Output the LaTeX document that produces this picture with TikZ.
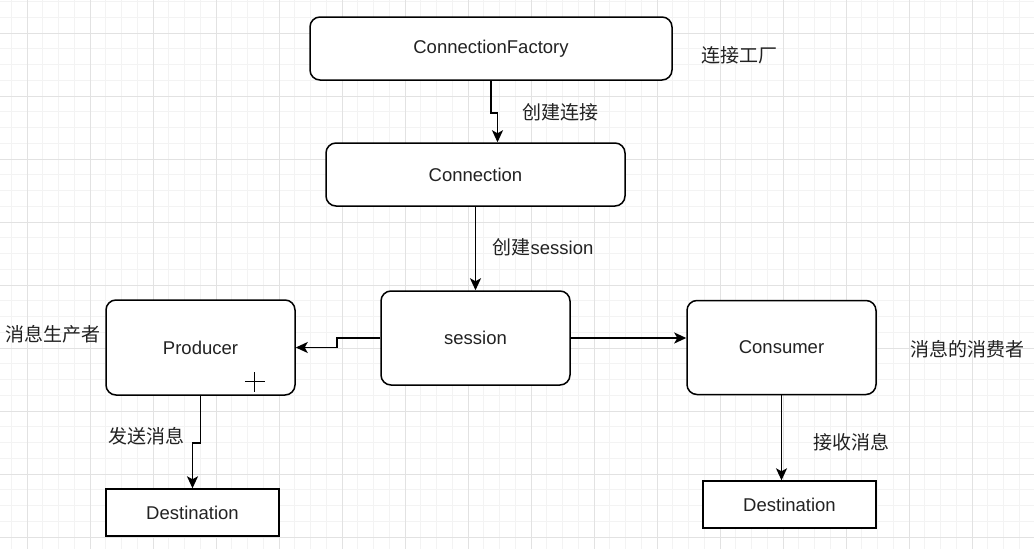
\documentclass[tikz,border=0pt]{standalone}
\usepackage{fontspec}
\setmainfont{Liberation Sans}
\newfontfamily\cjk{Noto Sans CJK SC}
\usetikzlibrary{arrows.meta}
\definecolor{txt}{HTML}{222222}
\definecolor{gminor}{HTML}{F3F3F3}
\definecolor{gmajor}{HTML}{E2E2E2}
\begin{document}
\begin{tikzpicture}[x=1pt,y=-1pt,
  rbox/.style={draw=black, rounded corners=10pt, line width=1.5pt, fill=white, inner sep=0pt, text=txt, font=\fontsize{18.5}{21}\selectfont},
  sbox/.style={draw=black, line width=1.4pt, fill=white, inner sep=0pt, text=txt, font=\fontsize{18.5}{21}\selectfont},
  lbl/.style={inner sep=0pt, text=txt, font=\fontsize{19}{22}\selectfont\cjk},
  arr/.style={draw=black, line width=1.6pt, -{Stealth[length=12pt,width=11pt,inset=3pt]}},
  gridminor/.style={draw=gminor, line width=0.8pt},
  gridmajor/.style={draw=gmajor, line width=1pt}]
\useasboundingbox (0,0) rectangle (1034,549);
\begin{scope}
\clip (0,0) rectangle (1034,549);
\fill[white] (0,0) rectangle (1034,549);
\foreach \i in {-2,...,65} \draw[gridminor] ({27+15.75*\i},0) -- ({27+15.75*\i},549);
\foreach \i in {-3,...,34} \draw[gridminor] (0,{33+15.75*\i}) -- (1034,{33+15.75*\i});
\foreach \i in {0,...,16} \draw[gridmajor] ({27+63*\i},0) -- ({27+63*\i},549);
\foreach \i in {0,...,8} \draw[gridmajor] (0,{33+63*\i}) -- (1034,{33+63*\i});
\end{scope}

\node[rbox, minimum width=362pt, minimum height=63pt] (cf) at (491,48.5) {ConnectionFactory};
\node[rbox, minimum width=299pt, minimum height=63pt] (conn) at (475.5,174.5) {Connection};
\node[rbox, minimum width=189pt, minimum height=94pt] (ses) at (475.5,338) {session};
\node[rbox, minimum width=189pt, minimum height=95pt] (prod) at (200.5,347.5) {Producer};
\node[rbox, minimum width=189pt, minimum height=94pt] (cons) at (781.5,347.5) {Consumer};
\node[sbox, minimum width=173pt, minimum height=47pt] (d1) at (192.5,512.5) {Destination};
\node[sbox, minimum width=173pt, minimum height=47pt] (d2) at (789.5,504.5) {Destination};

\node[lbl] (l1) at (739,55) {连接工厂};
\node[lbl] (l2) at (560,112) {创建连接};
\node[lbl, font=\fontsize{18.5}{21}\selectfont] (l3) at (543,247) {{\fontsize{19}{22}\selectfont\cjk 创建}session};
\node[lbl] (l4) at (53,334) {消息生产者};
\node[lbl] (l5) at (967,349) {消息的消费者};
\node[lbl] (l6) at (146,436) {发送消息};
\node[lbl] (l7) at (851,442) {接收消息};

\draw[arr] (cf.south) -- ++(0,32) -| ([xshift=22pt]conn.north);
\draw[arr] (conn.south) -- (ses.north);
\draw[arr] (ses.west) -- ++(-43,0) |- (prod.east);
\draw[arr] (ses.east) -- (ses.east -| cons.west);
\draw[arr] (prod.south) -- ++(0,47) -| (d1.north);
\draw[arr] (cons.south) -- (cons.south |- d2.north);

\coordinate (pc) at ([xshift=-41pt,yshift=14pt]prod.south east);
\draw[line width=1.3pt] ([xshift=-10pt]pc) -- ([xshift=10pt]pc);
\draw[line width=1.3pt] ([yshift=-10pt]pc) -- ([yshift=10pt]pc);
\end{tikzpicture}
\end{document}
